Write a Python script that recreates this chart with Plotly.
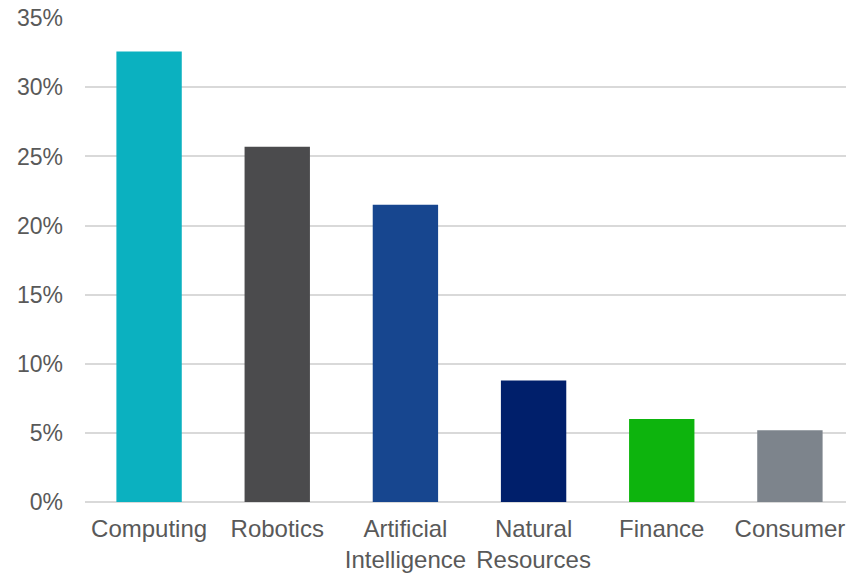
import plotly.graph_objects as go

categories = ["Computing", "Robotics", "Artificial<br>Intelligence", "Natural<br>Resources", "Finance", "Consumer"]
values = [32.6, 25.7, 21.5, 8.8, 6.0, 5.2]
colors = ["#0BB1C0", "#4B4B4D", "#17468F", "#001F6B", "#0DB40D", "#7D848C"]
tick_vals = [0, 5, 10, 15, 20, 25, 30, 35]
tick_text = ["0%", "5%", "10%", "15%", "20%", "25%", "30%", "35%"]

fig = go.Figure(go.Bar(x=categories, y=values, marker=dict(color=colors, line=dict(width=0)), width=0.51))

xfont = dict(family="Liberation Sans, Arial, sans-serif", size=24, color="#595959")
yfont = dict(family="Liberation Sans, Arial, sans-serif", size=23, color="#595959")
fig.update_layout(
    width=846, height=565,
    margin=dict(l=77, r=0, t=10, b=71),
    paper_bgcolor="white", plot_bgcolor="white",
    font=xfont, showlegend=False,
    xaxis=dict(showgrid=False, showline=False, zeroline=False, ticks="", ticklabelstandoff=10,
               tickfont=xfont, automargin=False),
    yaxis=dict(range=[0, 35.02], tickvals=tick_vals, ticktext=tick_text, showgrid=True,
               gridcolor="#D9D9D9", gridwidth=2, zeroline=True, zerolinecolor="#D9D9D9",
               zerolinewidth=2, showline=False, ticks="", ticklabelstandoff=21, tickfont=yfont,
               automargin=False, ticklabeloverflow="allow"),
)
fig.write_html("out.html")
